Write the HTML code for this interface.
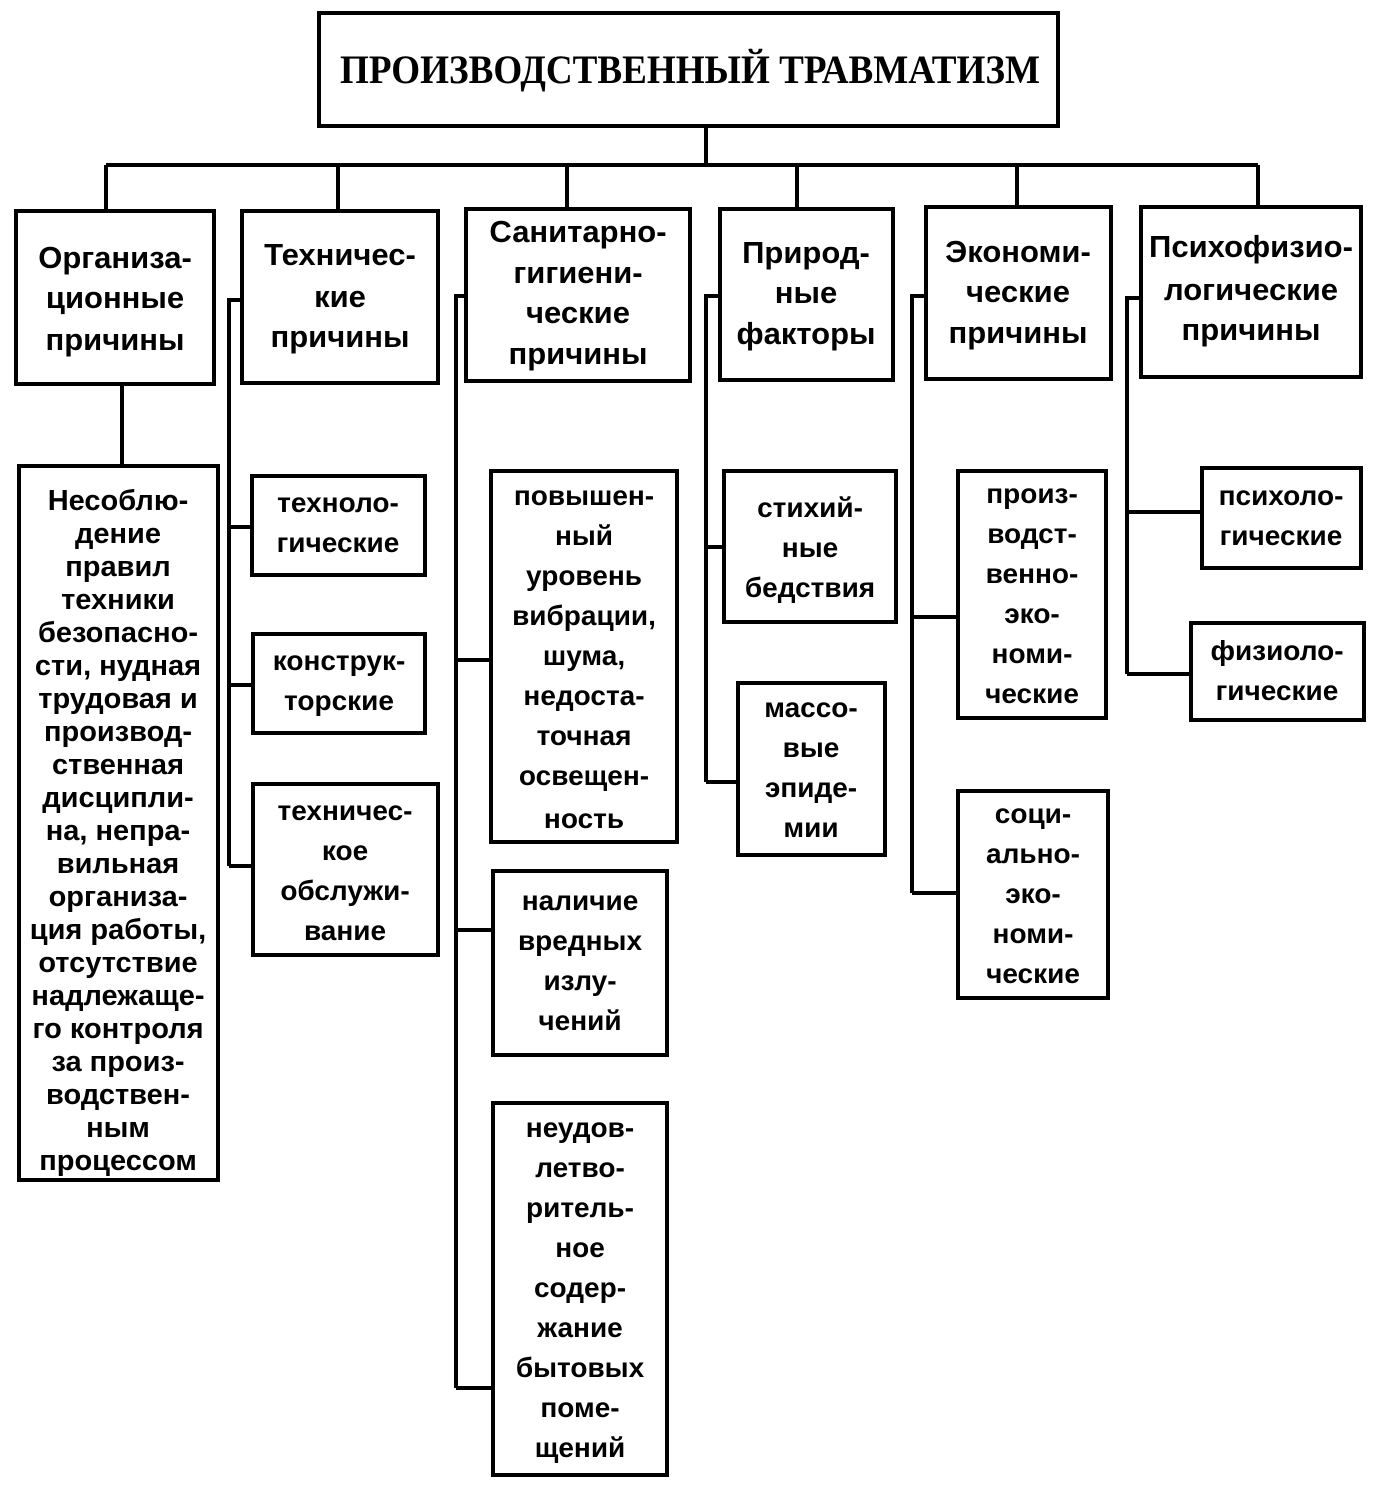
<!DOCTYPE html>
<html><head><meta charset="utf-8"><style>
html,body{margin:0;padding:0;background:#fff;}
svg{display:block;}
text{font-family:"Liberation Sans",sans-serif;font-weight:bold;fill:#000;text-anchor:middle;}
.t{font-family:"Liberation Serif",serif;font-weight:bold;}
</style></head><body>
<svg width="1383" height="1488" viewBox="0 0 1383 1488" xmlns="http://www.w3.org/2000/svg">
<g fill="none" stroke="#000" stroke-width="4">
<rect x="319" y="13" width="739" height="113"/>
<path d="M706 126V165M106 165H1258M106 165V210M338 165V210M567 165V208M797 165V208M1017 165V206M1258 165V206"/>
<rect x="16" y="211" width="198" height="173"/>
<rect x="242" y="211" width="196" height="172"/>
<rect x="466" y="209" width="224" height="172"/>
<rect x="720" y="209" width="173" height="171"/>
<rect x="926" y="207" width="185" height="172"/>
<rect x="1141" y="207" width="220" height="170"/>
<path d="M122 384V465"/>
<rect x="19" y="466" width="199" height="714"/>
<path d="M242 300H229V866M229 527H251M229 685H252M229 866H252"/>
<rect x="252" y="476" width="173" height="99"/>
<rect x="253" y="634" width="172" height="99"/>
<rect x="253" y="784" width="185" height="171"/>
<path d="M466 296H456V1388M456 660H490M456 930H492M456 1388H492"/>
<rect x="491" y="471" width="186" height="371"/>
<rect x="493" y="871" width="174" height="184"/>
<rect x="493" y="1103" width="174" height="372"/>
<path d="M720 296H706V782M706 547H723M706 782H737"/>
<rect x="724" y="471" width="172" height="151"/>
<rect x="738" y="683" width="147" height="172"/>
<path d="M926 296H912V893M912 617H957M912 893H957"/>
<rect x="958" y="471" width="148" height="247"/>
<rect x="958" y="791" width="150" height="207"/>
<path d="M1141 298H1127V674M1127 512H1201M1127 674H1190"/>
<rect x="1202" y="468" width="159" height="100"/>
<rect x="1191" y="623" width="173" height="97"/>
</g>
<text class="t" x="690" y="83" font-size="40" textLength="700" lengthAdjust="spacingAndGlyphs">ПРОИЗВОДСТВЕННЫЙ ТРАВМАТИЗМ</text>
<g font-size="31">
<text x="115" y="268">Организа-</text><text x="115" y="308">ционные</text><text x="115" y="350">причины</text>
<text x="340" y="265">Техничес-</text><text x="340" y="307">кие</text><text x="340" y="347">причины</text>
<text x="578" y="242">Санитарно-</text><text x="578" y="283">гигиени-</text><text x="578" y="323">ческие</text><text x="578" y="364">причины</text>
<text x="806" y="263">Природ-</text><text x="806" y="303">ные</text><text x="806" y="344">факторы</text>
<text x="1018" y="262">Экономи-</text><text x="1018" y="302">ческие</text><text x="1018" y="343">причины</text>
<text x="1251" y="257">Психофизио-</text><text x="1251" y="300">логические</text><text x="1251" y="340">причины</text>
</g>
<g font-size="29">
<text x="118" y="510">Несоблю-</text><text x="118" y="543">дение</text><text x="118" y="576">правил</text><text x="118" y="609">техники</text><text x="118" y="642">безопасно-</text><text x="118" y="675">сти, нудная</text><text x="118" y="708">трудовая и</text><text x="118" y="741">производ-</text><text x="118" y="774">ственная</text><text x="118" y="807">дисципли-</text><text x="118" y="840">на, непра-</text><text x="118" y="873">вильная</text><text x="118" y="906">организа-</text><text x="118" y="939">ция работы,</text><text x="118" y="972">отсутствие</text><text x="118" y="1005">надлежаще-</text><text x="118" y="1038">го контроля</text><text x="118" y="1071">за произ-</text><text x="118" y="1104">водствен-</text><text x="118" y="1137">ным</text><text x="118" y="1170">процессом</text>
</g>
<g font-size="28">
<text x="338" y="512">техноло-</text><text x="338" y="552">гические</text>
<text x="339" y="670">конструк-</text><text x="339" y="710">торские</text>
<text x="345" y="820">техничес-</text><text x="345" y="860">кое</text><text x="345" y="900">обслужи-</text><text x="345" y="940">вание</text>
<text x="584" y="505">повышен-</text><text x="584" y="545">ный</text><text x="584" y="585">уровень</text><text x="584" y="625">вибрации,</text><text x="584" y="665">шума,</text><text x="584" y="705">недоста-</text><text x="584" y="745">точная</text><text x="584" y="785">освещен-</text><text x="584" y="828">ность</text>
<text x="580" y="910">наличие</text><text x="580" y="950">вредных</text><text x="580" y="990">излу-</text><text x="580" y="1030">чений</text>
<text x="580" y="1137">неудов-</text><text x="580" y="1177">летво-</text><text x="580" y="1217">ритель-</text><text x="580" y="1257">ное</text><text x="580" y="1297">содер-</text><text x="580" y="1337">жание</text><text x="580" y="1377">бытовых</text><text x="580" y="1417">поме-</text><text x="580" y="1457">щений</text>
<text x="810" y="517">стихий-</text><text x="810" y="557">ные</text><text x="810" y="597">бедствия</text>
<text x="811" y="717">массо-</text><text x="811" y="757">вые</text><text x="811" y="797">эпиде-</text><text x="811" y="837">мии</text>
<text x="1032" y="503">произ-</text><text x="1032" y="543">водст-</text><text x="1032" y="583">венно-</text><text x="1032" y="623">эко-</text><text x="1032" y="663">номи-</text><text x="1032" y="703">ческие</text>
<text x="1033" y="823">соци-</text><text x="1033" y="863">ально-</text><text x="1033" y="903">эко-</text><text x="1033" y="943">номи-</text><text x="1033" y="983">ческие</text>
<text x="1281" y="505">психоло-</text><text x="1281" y="545">гические</text>
<text x="1277" y="660">физиоло-</text><text x="1277" y="700">гические</text>
</g>
</svg>
</body></html>
